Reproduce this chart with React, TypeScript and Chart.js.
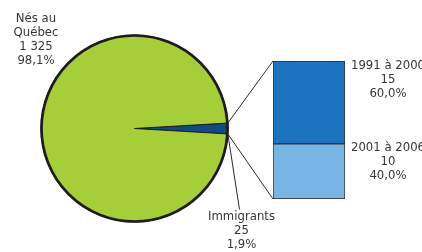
import React, { useEffect, useRef } from "react";
import { Chart, registerables } from "chart.js";

Chart.register(...registerables);

const pieLabels = ["Immigrants", "Nés au Québec"];
const pieValues = [25, 1325];
const pieTexts = [
  ["Immigrants", "25", "1,9%"],
  ["Nés au", "Québec", "1 325", "98,1%"],
];
const pieColors = ["#0f4c81", "#a6ce39"];

const barCategories = ["Immigrants"];
const barSeriesLabels = ["2001 à 2006", "1991 à 2000"];
const barValues = [40, 60];
const barCounts = ["10", "15"];
const barPercents = ["40,0%", "60,0%"];
const barColors = ["#78b4e4", "#1b74bd"];

const FONT = "DejaVu Sans";
const FS = 11.7;
const LH = 14.1;
const TEXT = "#363636";

function drawLines(ctx: CanvasRenderingContext2D, lines: string[], cx: number, y0: number) {
  ctx.save();
  ctx.font = `${FS}px "${FONT}"`;
  ctx.fillStyle = TEXT;
  ctx.textAlign = "center";
  ctx.textBaseline = "middle";
  lines.forEach((l, i) => ctx.fillText(l, cx, y0 + i * LH));
  ctx.restore();
}

export default function App() {
  const pieRef = useRef<HTMLCanvasElement>(null);
  const barRef = useRef<HTMLCanvasElement>(null);

  useEffect(() => {
    if (!pieRef.current || !barRef.current) return;
    const total = pieValues.reduce((a, b) => a + b, 0);
    const rotation = 90 - (pieValues[0] / total) * 180;

    const pieOutline = {
      id: "pieOutline",
      afterDatasetsDraw(chart: any) {
        const ctx = chart.ctx as CanvasRenderingContext2D;
        const arc = chart.getDatasetMeta(0).data[0] as any;
        ctx.save();
        ctx.strokeStyle = "#1e1c1c";
        ctx.lineWidth = 2.7;
        ctx.beginPath();
        ctx.arc(arc.x, arc.y, arc.outerRadius - 0.5, 0, Math.PI * 2);
        ctx.stroke();
        ctx.restore();
        drawLines(ctx, pieTexts[1], 36, 18.5);
        drawLines(ctx, pieTexts[0], arc.x + 107, arc.y + 88);
      },
    };

    const pie = new Chart(pieRef.current, {
      type: "pie",
      data: {
        labels: pieLabels,
        datasets: [
          {
            data: pieValues,
            backgroundColor: pieColors,
            borderColor: "#1e1c1c",
            borderWidth: 1,
          },
        ],
      },
      options: {
        animation: false,
        responsive: false,
        rotation,
        layout: { padding: { left: 40.5, right: 193.5, top: 34.5, bottom: 29.5 } },
        plugins: { legend: { display: false }, tooltip: { enabled: false } },
      },
      plugins: [pieOutline],
    });

    const connectors = {
      id: "connectors",
      afterDatasetsDraw(chart: any) {
        const ctx = chart.ctx as CanvasRenderingContext2D;
        const arc = pie.getDatasetMeta(0).data[0] as any;
        const bottom = chart.getDatasetMeta(0).data[0] as any;
        const top = chart.getDatasetMeta(1).data[0] as any;
        const r = arc.outerRadius;
        const p1 = { x: arc.x + r * Math.cos(arc.startAngle), y: arc.y + r * Math.sin(arc.startAngle) };
        const p2 = { x: arc.x + r * Math.cos(arc.endAngle), y: arc.y + r * Math.sin(arc.endAngle) };
        const left = top.x - top.width / 2;
        const right = top.x + top.width / 2;
        ctx.save();
        ctx.strokeStyle = "#2a2a2a";
        ctx.lineWidth = 1;
        ctx.beginPath();
        ctx.moveTo(p1.x, p1.y);
        ctx.lineTo(left, top.y);
        ctx.moveTo(p2.x, p2.y);
        ctx.lineTo(left, bottom.base);
        ctx.moveTo(p2.x, p2.y);
        ctx.lineTo(arc.x + 105, arc.y + 81);
        ctx.stroke();
        ctx.restore();
        const cx = right + 43;
        drawLines(ctx, [barSeriesLabels[1], barCounts[1], barPercents[1]], cx, top.y + 4.5);
        drawLines(ctx, [barSeriesLabels[0], barCounts[0], barPercents[0]], cx, bottom.y + 4);
      },
    };

    const bar = new Chart(barRef.current, {
      type: "bar",
      data: {
        labels: barCategories,
        datasets: barValues.map((v, i) => ({
          label: barSeriesLabels[i],
          data: [v],
          backgroundColor: barColors[i],
          borderColor: "#2e2e2e",
          borderWidth: 1,
          borderSkipped: false,
          barPercentage: 1,
          categoryPercentage: 1,
        })),
      },
      options: {
        animation: false,
        responsive: false,
        layout: { padding: { left: 273, right: 77, top: 61, bottom: 53 } },
        scales: {
          x: { stacked: true, display: false },
          y: { stacked: true, display: false, min: 0, max: 100 },
        },
        plugins: { legend: { display: false }, tooltip: { enabled: false } },
      },
      plugins: [connectors],
    });

    return () => {
      bar.destroy();
      pie.destroy();
    };
  }, []);

  const cs: React.CSSProperties = { position: "absolute", left: 0, top: 0, width: 422, height: 252 };
  return (
    <div style={{ position: "fixed", left: 0, top: 0, width: 422, height: 252, background: "#fff", overflow: "hidden" }}>
      <canvas ref={pieRef} width={422} height={252} style={cs} />
      <canvas ref={barRef} width={422} height={252} style={{ ...cs, pointerEvents: "none" }} />
    </div>
  );
}
